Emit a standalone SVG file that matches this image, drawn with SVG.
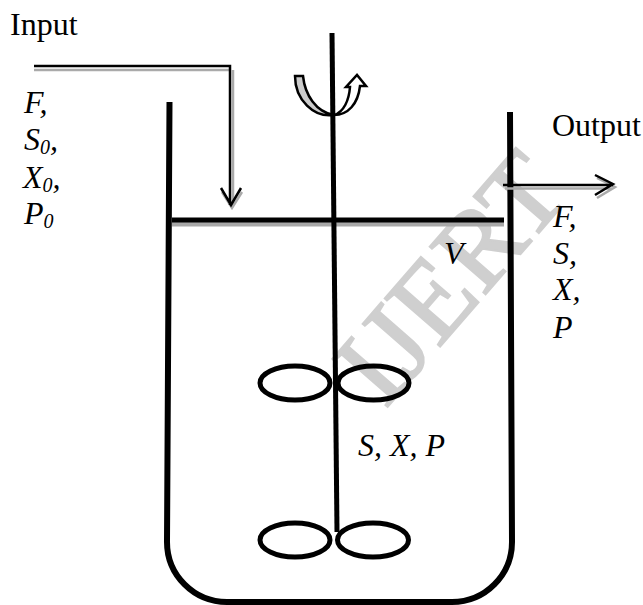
<svg xmlns="http://www.w3.org/2000/svg" width="643" height="605" viewBox="0 0 643 605">
<style>
text{font-family:"Liberation Serif","Times New Roman",serif;font-size:32px;fill:#000}
.i{font-style:italic}
.s{font-size:20px}
.k{fill:none;stroke:#000;stroke-width:2.5}
.g{fill:none;stroke:#aaa;stroke-width:2.5}
.v{fill:none;stroke:#000;stroke-width:6}
.b{fill:none;stroke:#000;stroke-width:5}
</style>
<rect width="643" height="605" fill="#fff"/>
<text id="watermark" x="0" y="0" transform="translate(385 410) rotate(-49)" style="font-size:112px;fill:#cfcfcf;stroke:#cfcfcf;stroke-width:2">IJERT</text>
<g id="vessel"><path class="v" d="M169.500 102L167 542A60 60 0 0 0 227 602H452A60 60 0 0 0 512 542L510 112"/></g>
<g id="liquid"><path d="M172 224H504" fill="none" stroke="#a8a8a8" stroke-width="5"/><path d="M172 220H504" fill="none" stroke="#000" stroke-width="5"/></g>
<g id="shaft"><path d="M332 33L337 532" fill="none" stroke="#000" stroke-width="5"/></g>
<g id="impeller-top"><ellipse class="b" cx="295" cy="383" rx="35" ry="17"/><ellipse class="b" cx="373.500" cy="383" rx="35.500" ry="17"/></g>
<g id="impeller-bottom"><ellipse class="b" cx="295" cy="540" rx="35" ry="17"/><ellipse class="b" cx="373" cy="540" rx="35.500" ry="17"/></g>
<g id="rotation"><path d="M295 76H303C305 95 316 112 334 115C314 118 295 100 295 76Z" fill="#ccc" stroke="#000" stroke-width="2.500"/><path d="M334 115C344 112 349 100 350 87H346L357 75L366 86H360C358 104 348 115 334 115Z" fill="#fff" stroke="#000" stroke-width="2.500"/></g>
<g id="connectors">
<path class="g" d="M34 70H230M233 70V206M222 192L232 208L242 192"/>
<path class="k" d="M34 66H230V205M221 188L231 205L241 188"/>
<path class="g" d="M505 188.500H612M597 178L615 187L597 198"/>
<path class="k" d="M503 185H613M595 175L613 184L595 195"/>
</g>
<g id="labels">
<text x="10" y="35">Input</text>
<text x="552" y="136">Output</text>
<text class="i" x="24" y="113">F,</text>
<text class="i" x="24" y="150">S<tspan class="s" dy="4">0</tspan><tspan dy="-4">,</tspan></text>
<text class="i" x="23" y="188">X<tspan class="s" dy="4">0</tspan><tspan dy="-4">,</tspan></text>
<text class="i" x="24" y="224">P<tspan class="s" dy="4">0</tspan></text>
<text class="i" x="553" y="227">F,</text>
<text class="i" x="553" y="264">S,</text>
<text class="i" x="553" y="300">X,</text>
<text class="i" x="553" y="338">P</text>
<text class="i" x="444" y="264">V</text>
<text class="i" x="358" y="456">S, X, P</text>
</g>
</svg>
